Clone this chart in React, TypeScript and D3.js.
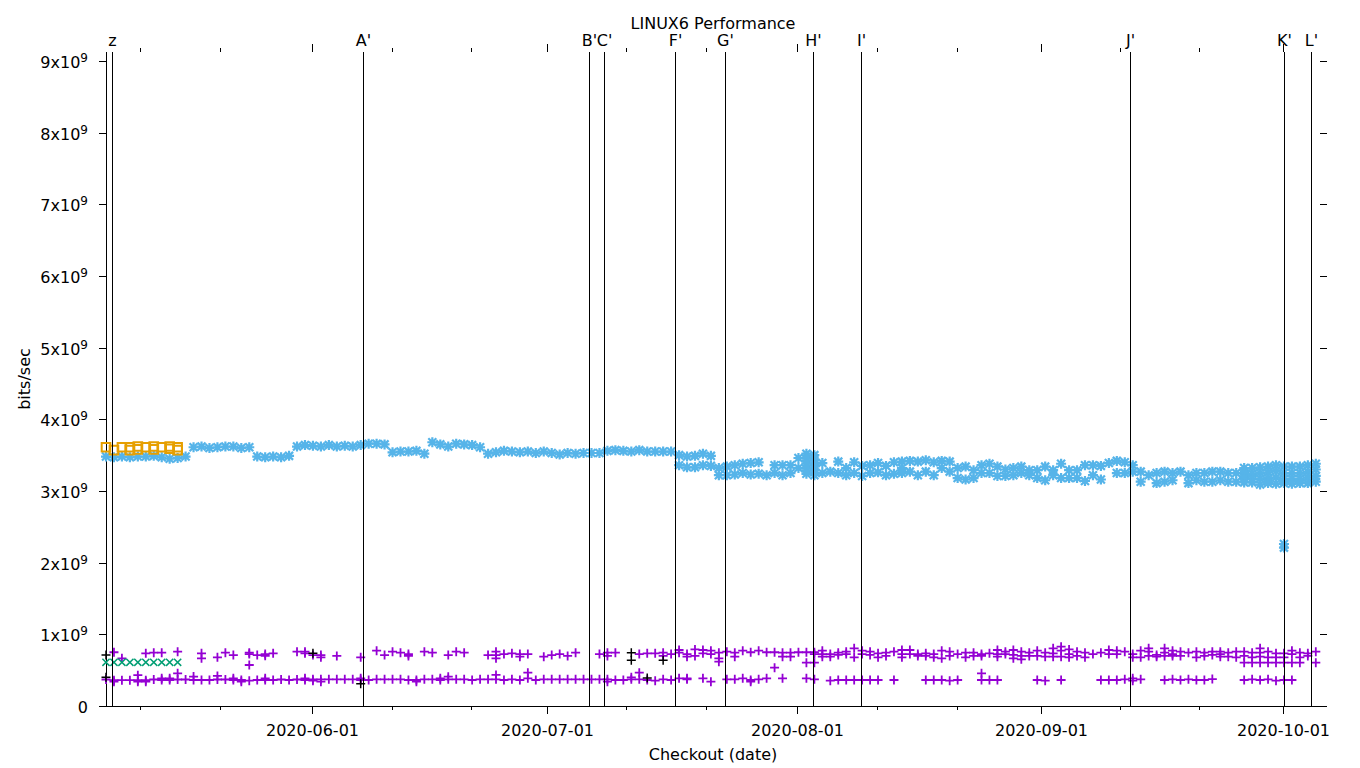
import React from "react";
import * as d3 from "d3";

const W = 1360;
const H = 768;
const PLOT = { left: 106, right: 1320, top: 52, bottom: 706 };
const FONT = "DejaVu Sans";

// time axis: checkout day index k = days after 2020-05-06 03:00 UTC
const BASE_DATE = "2020-05-06T03:00:00Z";
const END_DATE = "2020-10-05T15:40:00Z";
const Y_MAX = 9.125e9;
const SCALE = 1e9;

const yTickValues = [0, 1, 2, 3, 4, 5, 6, 7, 8, 9];
const xMajorTicks = ["2020-06-01", "2020-07-01", "2020-08-01", "2020-09-01", "2020-10-01"];
const xMajorTickTimes = ["2020-06-01T00:00:00Z", "2020-06-30T13:00:00Z", "2020-08-01T00:00:00Z", "2020-08-31T14:00:00Z", "2020-10-01T00:00:00Z"];
const xMinorTicks = [
  "2020-05-10T10:00:00Z", "2020-05-20T11:00:00Z",
  "2020-06-11", "2020-06-21", "2020-07-10T12:00:00Z", "2020-07-20T12:00:00Z",
  "2020-08-11", "2020-08-21", "2020-09-10T12:00:00Z", "2020-09-20T12:00:00Z",
];

// event markers (label, day index)
const eventLabels = ["z", "A'", "B'", "C'", "F'", "G'", "H'", "I'", "J'", "K'", "L'"];
const eventDays = [0.75, 32.29, 60.69, 62.57, 71.49, 77.77, 88.83, 94.86, 128.66, 148.0, 151.4];

// series: [dayIndex, ...values in 1e9 bits/sec]
const purple: number[][] = [
  [0, 0.37], [1, 0.75, 0.36, 0.34], [2, 0.665, 0.36], [3, 0.36], [4, 0.43, 0.36, 0.34],
  [5, 0.735, 0.36, 0.34], [6, 0.744, 0.37], [7, 0.744, 0.386, 0.363], [8, 0.386, 0.363], [9, 0.758, 0.456, 0.37],
  [10, 0.37], [11, 0.41, 0.363], [12, 0.735, 0.665, 0.363], [13, 0.363], [14, 0.679, 0.42, 0.37],
  [15, 0.744, 0.37], [16, 0.71, 0.386, 0.363], [17, 0.363, 0.34], [18, 0.744, 0.725, 0.572, 0.353], [19, 0.71, 0.363],
  [20, 0.725, 0.7, 0.386, 0.363], [21, 0.735, 0.363], [22, 0.37], [23, 0.363], [24, 0.758, 0.37],
  [25, 0.758, 0.735, 0.386, 0.363], [26, 0.71, 0.372, 0.353], [27, 0.71, 0.679, 0.372, 0.339], [28, 0.372], [29, 0.698, 0.372],
  [30, 0.372], [31, 0.372], [32, 0.679, 0.386, 0.363], [33, 0.363], [34, 0.772, 0.372],
  [35, 0.71, 0.372], [36, 0.758, 0.372], [37, 0.744, 0.372], [38, 0.725, 0.698, 0.363], [39, 0.363, 0.339],
  [40, 0.758, 0.372], [41, 0.744, 0.372], [42, 0.386, 0.363], [43, 0.71, 0.409, 0.372], [44, 0.758, 0.372],
  [45, 0.744, 0.372], [46, 0.363], [47, 0.372], [48, 0.71, 0.372], [49, 0.758, 0.71, 0.665, 0.433, 0.372],
  [50, 0.725, 0.363], [51, 0.735, 0.372], [52, 0.725, 0.688, 0.363], [53, 0.725, 0.465, 0.386], [54, 0.363],
  [55, 0.688, 0.372], [56, 0.71, 0.372], [57, 0.725, 0.372], [58, 0.698, 0.372], [59, 0.744, 0.372],
  [60, 0.372], [61, 0.372], [62, 0.725, 0.372], [63, 0.744, 0.698, 0.372, 0.339], [64, 0.744, 0.363],
  [65, 0.363], [66, 0.4, 0.372], [67, 0.725, 0.465, 0.372], [68, 0.735, 0.363], [69, 0.735, 0.353],
  [70, 0.744, 0.698, 0.372], [71, 0.725, 0.363], [72, 0.781, 0.744, 0.386], [73, 0.725, 0.688, 0.386, 0.372], [74, 0.79, 0.698],
  [75, 0.781, 0.735, 0.386], [76, 0.772, 0.725, 0.339], [77, 0.744, 0.665, 0.619], [78, 0.758, 0.372], [79, 0.744, 0.688, 0.372],
  [80, 0.772, 0.386], [81, 0.75, 0.363, 0.339], [82, 0.772, 0.372], [83, 0.75, 0.386], [84, 0.75, 0.535],
  [85, 0.744, 0.688, 0.386], [86, 0.744, 0.688], [87, 0.75], [88, 0.75, 0.605, 0.386], [89, 0.75, 0.725, 0.605, 0.372],
  [90, 0.772, 0.725, 0.688], [91, 0.725, 0.688, 0.353], [92, 0.744, 0.712, 0.363], [93, 0.758, 0.725, 0.363], [94, 0.805, 0.679, 0.363],
  [95, 0.772, 0.725, 0.363], [96, 0.758, 0.712, 0.363], [97, 0.735, 0.679, 0.363], [98, 0.744, 0.698], [99, 0.758, 0.363],
  [100, 0.781, 0.725, 0.679], [101, 0.781, 0.725], [102, 0.725, 0.698], [103, 0.735, 0.698, 0.363], [104, 0.725, 0.679, 0.363],
  [105, 0.772, 0.665, 0.363], [106, 0.758, 0.698, 0.353], [107, 0.725, 0.363], [108, 0.744, 0.679], [109, 0.744, 0.698],
  [110, 0.725, 0.698, 0.456, 0.363], [111, 0.735, 0.363], [112, 0.781, 0.725, 0.688, 0.363], [113, 0.758, 0.725], [114, 0.781, 0.712, 0.665],
  [115, 0.758, 0.698, 0.651], [116, 0.744, 0.698], [117, 0.772, 0.698, 0.363], [118, 0.744, 0.688, 0.353], [119, 0.805, 0.735, 0.688],
  [120, 0.828, 0.772, 0.688, 0.363], [121, 0.79, 0.725, 0.679], [122, 0.758, 0.698], [123, 0.744, 0.679], [124, 0.725],
  [125, 0.744, 0.363], [126, 0.781, 0.725, 0.363], [127, 0.772, 0.725, 0.363], [128, 0.758, 0.372], [129, 0.725, 0.679, 0.386, 0.353],
  [130, 0.772, 0.679, 0.372], [131, 0.805, 0.758, 0.698], [132, 0.712, 0.688], [133, 0.805, 0.744, 0.698, 0.363], [134, 0.772, 0.725, 0.698, 0.372],
  [135, 0.758, 0.698, 0.363], [136, 0.744, 0.372], [137, 0.758, 0.679, 0.363], [138, 0.744, 0.698, 0.363], [139, 0.758, 0.712, 0.376],
  [140, 0.758, 0.725, 0.688], [141, 0.744, 0.688], [142, 0.758, 0.679], [143, 0.758, 0.698, 0.605, 0.363], [144, 0.744, 0.679, 0.605, 0.372],
  [145, 0.805, 0.744, 0.688, 0.605, 0.363], [146, 0.758, 0.679, 0.605, 0.372], [147, 0.735, 0.679, 0.605, 0.353], [148, 0.735, 0.679, 0.605, 0.363], [149, 0.772, 0.725, 0.605, 0.363],
  [150, 0.744, 0.679, 0.605], [151, 0.735, 0.698], [152, 0.758, 0.605],
];

const black: number[][] = [
  [0, 0.71, 0.4], [26, 0.735], [32, 0.31], [66, 0.744, 0.64], [68, 0.39], [70, 0.64],
];

const green: number[][] = [
  [0, 0.61], [1, 0.61], [2, 0.61], [3, 0.61], [4, 0.61], [5, 0.61], [6, 0.61], [7, 0.61], [8, 0.61], [9, 0.61],
];

const blue: number[][] = [
  [0, 3.48], [1, 3.47], [2, 3.48], [3, 3.47], [4, 3.48], [5, 3.48], [6, 3.49], [7, 3.47], [8, 3.45], [9, 3.46], [10, 3.48],
  [11, 3.61], [12, 3.62], [13, 3.6], [14, 3.61], [15, 3.62], [16, 3.62], [17, 3.6], [18, 3.61],
  [19, 3.48], [20, 3.47], [21, 3.48], [22, 3.47], [23, 3.49],
  [24, 3.62], [25, 3.64], [26, 3.63], [27, 3.62], [28, 3.64], [29, 3.62], [30, 3.63], [31, 3.62], [32, 3.64],
  [33, 3.66], [34, 3.66], [35, 3.65],
  [36, 3.54], [37, 3.55], [38, 3.55], [39, 3.56], [40, 3.52],
  [41, 3.68], [42, 3.65], [43, 3.62], [44, 3.66], [45, 3.65], [46, 3.64], [47, 3.61],
  [48, 3.52], [49, 3.54], [50, 3.56], [51, 3.55], [52, 3.54], [53, 3.55], [54, 3.53], [55, 3.55], [56, 3.53],
  [57, 3.51], [58, 3.53], [59, 3.52], [60, 3.53], [61, 3.53], [62, 3.53],
  [63, 3.56], [64, 3.57], [65, 3.56], [66, 3.55], [67, 3.57], [68, 3.55], [69, 3.55], [70, 3.55], [71, 3.55],
  [72, 3.5, 3.36], [73, 3.48, 3.33], [74, 3.49, 3.33], [75, 3.52, 3.36], [76, 3.49, 3.35],
  [77, 3.32, 3.22], [78, 3.34, 3.22], [79, 3.36, 3.23], [80, 3.38, 3.25], [81, 3.39, 3.23], [82, 3.4, 3.24],
  [83, 3.22], [84, 3.36, 3.25], [85, 3.36, 3.22], [86, 3.36, 3.25], [87, 3.46, 3.32],
  [88, 3.52, 3.45, 3.38, 3.31, 3.24], [89, 3.5, 3.43, 3.36, 3.29, 3.22], [90, 3.39, 3.25], [91, 3.27],
  [92, 3.41, 3.25], [93, 3.32, 3.22], [94, 3.4, 3.25], [95, 3.35, 3.21], [96, 3.36, 3.25], [97, 3.39, 3.26],
  [98, 3.35, 3.22], [99, 3.4, 3.24], [100, 3.41, 3.32, 3.25], [101, 3.42, 3.27], [102, 3.41, 3.22], [103, 3.43, 3.27],
  [104, 3.4, 3.22], [105, 3.42, 3.32], [106, 3.41, 3.27], [107, 3.32, 3.18], [108, 3.34, 3.16], [109, 3.29, 3.18],
  [110, 3.36, 3.25], [111, 3.38, 3.25], [112, 3.34, 3.21], [113, 3.3, 3.21], [114, 3.32, 3.22], [115, 3.34, 3.25],
  [116, 3.29, 3.22], [117, 3.29, 3.18], [118, 3.34, 3.15], [119, 3.29, 3.22], [120, 3.38, 3.18], [121, 3.29, 3.18],
  [122, 3.29, 3.18], [123, 3.36, 3.14], [124, 3.36, 3.22], [125, 3.35, 3.16], [126, 3.39], [127, 3.42, 3.25],
  [128, 3.4, 3.25], [129, 3.36, 3.27], [130, 3.27, 3.13], [131, 3.22], [132, 3.25, 3.11], [133, 3.27, 3.13],
  [134, 3.25, 3.15], [135, 3.27], [136, 3.22, 3.11], [137, 3.25, 3.15], [138, 3.25, 3.13], [139, 3.27, 3.13],
  [140, 3.27, 3.15], [141, 3.25, 3.13], [142, 3.25, 3.13], [143, 3.32, 3.25, 3.18, 3.12], [144, 3.32, 3.24, 3.17, 3.12],
  [145, 3.33, 3.25, 3.17, 3.09], [146, 3.34, 3.26, 3.18, 3.11], [147, 3.36, 3.28, 3.19, 3.1],
  [148, 3.34, 3.25, 3.17, 3.11, 2.26, 2.21], [149, 3.34, 3.25, 3.17, 3.1], [150, 3.34, 3.25, 3.17, 3.11],
  [151, 3.36, 3.27, 3.19, 3.11], [152, 3.38, 3.3, 3.21, 3.13],
];

const orange: number[][] = [
  [0, 3.61], [1, 3.57], [2, 3.61], [3, 3.61, 3.57], [4, 3.62, 3.58], [5, 3.61], [6, 3.62, 3.58], [7, 3.61],
  [8, 3.62, 3.59], [9, 3.61, 3.57],
];

const COLORS = { purple: "#9400d3", green: "#009e73", blue: "#56b4e9", orange: "#e69f00", black: "#000000" };

const plusPath = (s: number) => `M${-s},0H${s}M0,${-s}V${s}`;
const crossPath = (s: number) => `M${-s},${-s}L${s},${s}M${-s},${s}L${s},${-s}`;
const starPath = (s: number, c: number) => plusPath(s) + crossPath(c);
const squarePath = (s: number) => `M${-s},${-s}H${s}V${s}H${-s}Z`;

export default function App() {
  const base = new Date(BASE_DATE).getTime();
  const x = d3.scaleUtc().domain([new Date(BASE_DATE), new Date(END_DATE)]).range([PLOT.left, PLOT.right]);
  const y = d3.scaleLinear().domain([0, Y_MAX]).range([PLOT.bottom, PLOT.top]);
  const dayX = (k: number) => x(new Date(base + k * 864e5));
  const pts = (rows: number[][]) =>
    rows.flatMap(([k, ...vs]) => vs.map((v) => [dayX(k), y(v * SCALE)] as [number, number]));

  const series = [
    { rows: purple, color: COLORS.purple, d: plusPath(4.5), w: 1.8 },
    { rows: green, color: COLORS.green, d: crossPath(3.6), w: 1.5 },
    { rows: blue, color: COLORS.blue, d: starPath(5, 4), w: 2.2 },
    { rows: orange, color: COLORS.orange, d: squarePath(4.3), w: 2 },
    { rows: black, color: COLORS.black, d: plusPath(4.5), w: 1.5 },
  ];

  const textStyle = { fontFamily: FONT, fontSize: 16, fill: "#000" } as const;

  return (
    <svg
      width={W}
      height={H}
      viewBox={`0 0 ${W} ${H}`}
      style={{ position: "absolute", left: 0, top: 0, background: "#fff" }}
    >
      <rect x={0} y={0} width={W} height={H} fill="#fff" />
      {/* axes lines */}
      <line x1={PLOT.left} x2={PLOT.right} y1={PLOT.bottom + 0.5} y2={PLOT.bottom + 0.5} stroke="#000" />
      <line x1={PLOT.left + 0.5} x2={PLOT.left + 0.5} y1={PLOT.top} y2={PLOT.bottom} stroke="#000" />
      {/* y ticks */}
      {yTickValues.map((t) => {
        const yy = Math.round(y(t * SCALE)) + 0.5;
        return (
          <g key={"yt" + t}>
            <line x1={PLOT.left - 7} x2={PLOT.left} y1={yy} y2={yy} stroke="#000" />
            <line x1={PLOT.right} x2={PLOT.right + 7} y1={yy} y2={yy} stroke="#000" />
            {t === 0 ? (
              <text x={88} y={yy + 6} textAnchor="end" style={textStyle}>0</text>
            ) : (
              <text x={88} y={yy + 6} textAnchor="end" style={textStyle}>
                {`${t}x10`}
                <tspan dy={-6} fontSize={12}>9</tspan>
              </text>
            )}
          </g>
        );
      })}
      {/* x ticks */}
      {xMajorTicks.map((t, i) => {
        const xx = Math.round(x(new Date(xMajorTickTimes[i]))) + 0.5;
        return (
          <g key={"xt" + t}>
            <line x1={xx} x2={xx} y1={PLOT.bottom} y2={PLOT.bottom + 8} stroke="#000" />
            <line x1={xx} x2={xx} y1={PLOT.top - 8} y2={PLOT.top} stroke="#000" />
            <text x={xx} y={736} textAnchor="middle" style={textStyle}>{t}</text>
          </g>
        );
      })}
      {xMinorTicks.map((t) => {
        const xx = Math.round(x(new Date(t))) + 0.5;
        return (
          <g key={"xm" + t}>
            <line x1={xx} x2={xx} y1={PLOT.bottom} y2={PLOT.bottom + 4} stroke="#000" />
            <line x1={xx} x2={xx} y1={PLOT.top - 4} y2={PLOT.top} stroke="#000" />
          </g>
        );
      })}
      {/* data */}
      {series.map((s, i) => (
        <g key={"s" + i} stroke={s.color} strokeWidth={s.w} fill="none">
          {pts(s.rows).map(([px, py], j) => (
            <path key={j} d={s.d} transform={`translate(${px},${py})`} />
          ))}
        </g>
      ))}
      {/* events */}
      {eventDays.map((d, i) => {
        const xx = Math.round(dayX(d)) + 0.5;
        return (
          <g key={"ev" + i}>
            <line x1={xx} x2={xx} y1={PLOT.top} y2={PLOT.bottom} stroke="#000" />
            <text x={xx} y={46} textAnchor="middle" style={textStyle}>{eventLabels[i]}</text>
          </g>
        );
      })}
      {/* titles */}
      <text x={713} y={29} textAnchor="middle" style={textStyle}>LINUX6 Performance</text>
      <text x={713} y={760} textAnchor="middle" style={textStyle}>Checkout (date)</text>
      <text transform="translate(30,379) rotate(-90)" textAnchor="middle" style={textStyle}>bits/sec</text>
    </svg>
  );
}
